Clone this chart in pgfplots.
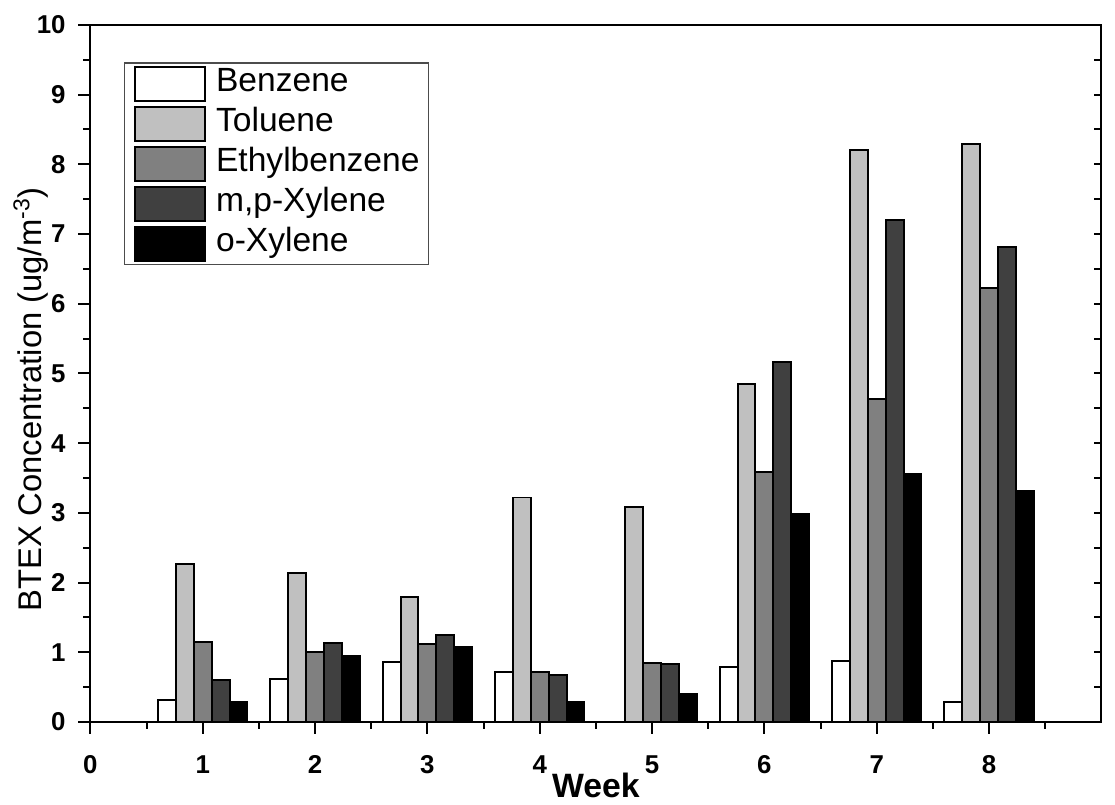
\documentclass[border=0pt]{standalone}
\usepackage{fontspec}
\setmainfont{Liberation Sans}
\usepackage{pgfplots}
\pgfplotsset{compat=1.18}
\definecolor{cT}{HTML}{C0C0C0}
\definecolor{cE}{HTML}{808080}
\definecolor{cM}{HTML}{404040}
\pgfplotsset{mylegend/.style={legend image code/.code={\draw[##1,line width=1pt] (0pt,-8.5pt) rectangle (35.5pt,8.5pt);}}}
\begin{document}
\begin{tikzpicture}
\begin{axis}[
  scale only axis, width=509pt, height=351pt,
  xmin=0, xmax=9, ymin=0, ymax=10,
  ybar=0pt, bar width=9pt,
  xtick={0,...,8}, minor xtick={0.5,1.5,...,8.5},
  ytick={0,...,10}, minor ytick={0.5,1.5,...,9.5},
  xtick pos=bottom, ytick pos=left, tick align=outside,
  major tick length=6pt, minor tick length=3.5pt,
  axis line style={line width=1pt},
  every tick/.style={line width=1pt, black},
  /pgf/number format/assume math mode=true,
  ticklabel style={font=\fontsize{13}{15}\selectfont\bfseries},
  xticklabel style={yshift=-7.25pt},
  yticklabel style={xshift=-3pt},
  every axis x label/.style={at={(axis description cs:0.5,-0.1083)}, anchor=base, font=\fontsize{17}{20}\selectfont\bfseries},
  every axis y label/.style={at={(axis description cs:-0.0481,0.463)}, anchor=base, rotate=90, font=\fontsize{16.5}{20}\selectfont},
  xlabel={Week},
  ylabel={BTEX Concentration (ug/m\textsuperscript{-3})},
  legend style={at={(axis description cs:0.0334,0.946)}, anchor=north west, draw=black!70, line width=0.6pt, inner xsep=4.5pt, inner ysep=1.5pt, row sep=2.15pt, column sep=5pt, font=\fontsize{16.9}{20}\selectfont, nodes={inner sep=0pt, text height=0.72em, text depth=0pt}},
  legend cell align=left,
]
\addplot[fill=white, draw=black, line width=1pt, mylegend] coordinates {(1,0.31) (2,0.61) (3,0.86) (4,0.71) (6,0.79) (7,0.88) (8,0.28)};
\addplot[fill=cT, draw=black, line width=1pt, mylegend] coordinates {(1,2.27) (2,2.14) (3,1.79) (4,3.22) (5,3.09) (6,4.85) (7,8.21) (8,8.29)};
\addplot[fill=cE, draw=black, line width=1pt, mylegend] coordinates {(1,1.15) (2,1.01) (3,1.12) (4,0.72) (5,0.84) (6,3.59) (7,4.63) (8,6.22)};
\addplot[fill=cM, draw=black, line width=1pt, mylegend] coordinates {(1,0.60) (2,1.14) (3,1.25) (4,0.68) (5,0.83) (6,5.17) (7,7.20) (8,6.82)};
\addplot[fill=black, draw=black, line width=1pt, mylegend] coordinates {(1,0.28) (2,0.94) (3,1.08) (4,0.28) (5,0.40) (6,2.99) (7,3.56) (8,3.31)};
\legend{Benzene, Toluene, Ethylbenzene, {m,p-Xylene}, o-Xylene}
\end{axis}
\begin{axis}[
  scale only axis, width=509pt, height=351pt,
  xmin=0, xmax=9, ymin=0, ymax=10,
  hide x axis, axis y line*=right,
  ytick={0,...,10}, minor ytick={0.5,1.5,...,9.5},
  yticklabels={}, tick align=inside,
  major tick length=3.5pt, minor tick length=3.5pt,
  axis line style={line width=1pt},
  every tick/.style={line width=1pt, black},
]
\end{axis}
\path (current axis.south west) ++(-45.5pt,-37pt) rectangle ([shift={(3pt,12.5pt)}]current axis.north east);
\end{tikzpicture}
\end{document}
